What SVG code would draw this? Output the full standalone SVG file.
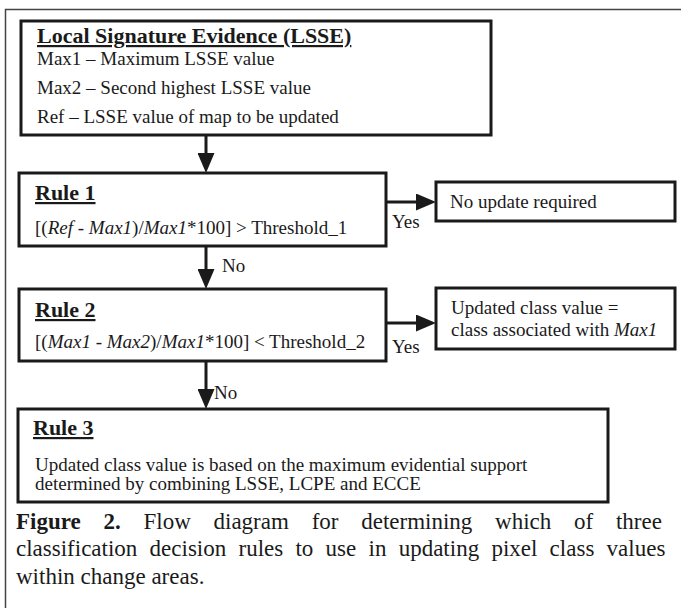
<svg xmlns="http://www.w3.org/2000/svg" width="681" height="608" viewBox="0 0 681 608">
<style>
  text { font-family: "Liberation Serif", "Times New Roman", serif; fill: #1a1a1a; }
  .box { fill: #ffffff; stroke: #1a1a1a; stroke-width: 3; }
  .title { font-size: 22px; font-weight: bold; text-decoration: underline; }
  .body { font-size: 19px; }
  .cap { font-size: 23px; }
  .conn { stroke: #1a1a1a; stroke-width: 3; fill: none; }
  .frame { stroke: #444; stroke-width: 1.5; fill: none; }
  .it { font-style: italic; }
</style>
<defs>
  <marker id="ah" markerWidth="20" markerHeight="17" refX="0" refY="8.5" orient="auto" markerUnits="userSpaceOnUse">
    <path d="M0,0 L20,8.5 L0,17 Z" fill="#1a1a1a"/>
  </marker>
</defs>
<rect width="681" height="608" fill="#ffffff"/>
<path class="frame" d="M5.5,608 L5.5,9.5 L681,9.5"/>

<g id="lsse">
  <rect class="box" x="21" y="21" width="470" height="114"/>
  <text class="title" x="37" y="43">Local Signature Evidence (LSSE)</text>
  <text class="body" x="37" y="65">Max1 – Maximum LSSE value</text>
  <text class="body" x="37" y="94">Max2 – Second highest LSSE value</text>
  <text class="body" x="37" y="123">Ref – LSSE value of map to be updated</text>
</g>

<g id="rule1">
  <rect class="box" x="19" y="173" width="367" height="73"/>
  <text class="title" x="35" y="200">Rule 1</text>
  <text class="body" x="35" y="234">[(<tspan class="it">Ref</tspan> - <tspan class="it">Max1</tspan>)/<tspan class="it">Max1</tspan>*100] &gt; Threshold_1</text>
</g>

<g id="noupdate">
  <rect class="box" x="436" y="182" width="239" height="39"/>
  <text class="body" x="450" y="208">No update required</text>
</g>

<g id="rule2">
  <rect class="box" x="19" y="289" width="367" height="72"/>
  <text class="title" x="35" y="317">Rule 2</text>
  <text class="body" x="35" y="348">[(<tspan class="it">Max1</tspan> - <tspan class="it">Max2</tspan>)/<tspan class="it">Max1</tspan>*100] &lt; Threshold_2</text>
</g>

<g id="updated">
  <rect class="box" x="436" y="288" width="239" height="61"/>
  <text class="body" x="451" y="314">Updated class value =</text>
  <text class="body" x="451" y="336">class associated with <tspan class="it">Max1</tspan></text>
</g>

<g id="rule3">
  <rect class="box" x="18" y="409" width="590" height="93"/>
  <text class="title" x="33" y="435">Rule 3</text>
  <text class="body" x="35" y="471">Updated class value is based on the maximum evidential support</text>
  <text class="body" x="35" y="490">determined by combining LSSE, LCPE and ECCE</text>
</g>

<g id="connectors">
  <line class="conn" x1="206" y1="135" x2="206" y2="153" marker-end="url(#ah)"/>
  <line class="conn" x1="386" y1="202" x2="416" y2="202" marker-end="url(#ah)"/>
  <text class="body" x="392" y="228">Yes</text>
  <line class="conn" x1="206" y1="246" x2="206" y2="269" marker-end="url(#ah)"/>
  <text class="body" x="222" y="272">No</text>
  <line class="conn" x1="386" y1="323" x2="416" y2="323" marker-end="url(#ah)"/>
  <text class="body" x="392" y="353">Yes</text>
  <line class="conn" x1="206" y1="361" x2="206" y2="389" marker-end="url(#ah)"/>
  <text class="body" x="214" y="399">No</text>
</g>

<g id="caption">
  <text class="cap" x="16" y="529" word-spacing="17"><tspan font-weight="bold">Figure 2.</tspan> Flow diagram for determining which of three</text>
  <text class="cap" x="16" y="556" word-spacing="6.5">classification decision rules to use in updating pixel class values</text>
  <text class="cap" x="16" y="584">within change areas.</text>
</g>
</svg>
